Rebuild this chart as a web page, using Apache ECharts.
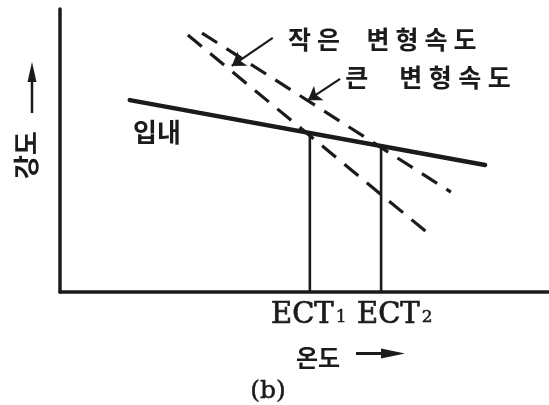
<!DOCTYPE html>
<html>
<head>
<meta charset="utf-8">
<script src="https://cdn.jsdelivr.net/npm/echarts@6/dist/echarts.min.js"></script>
<style>
  html, body { margin: 0; padding: 0; background: #fff; }
  #chart { width: 549px; height: 405px; }
</style>
</head>
<body>
<div id="chart"></div>
<script>
// Schematic: strength vs. temperature, grain interior vs. grain boundary
// at two strain rates (arbitrary units, 0..100 on both axes).
const interiorLine = [[14.3, 67.8], [87.1, 44.9]];      // 입내
const slowRateLine = [[26.2, 90.8], [75.6, 20.5]];      // 작은 변형속도
const fastRateLine = [[29.1, 91.5], [80.1, 35.3]];      // 큰 변형속도
const ectTemps = [51.2, 65.8];
const ectStrengths = [56.2, 51.6];
const ectSubs = ['1', '2'];
const slowLeader = [[43.6, 89.8], [35.2, 79.9]];
const fastLeader = [[57.4, 75.3], [50.8, 67.8]];

const INK = '#1b1b1b';
const KR = '"Noto Sans CJK KR", "Noto Sans", sans-serif';
const SERIF = '"DejaVu Serif", "Liberation Serif", serif';

// Builds rich text in which every character sits in a fixed-width box,
// giving the wide letter pitch of the labels.
function spaced(str) {
  return str.split('').map(ch => ch === ' ' ? '{s| }' : '{c|' + ch + '}').join('');
}
function spacedRich(size, pitch, gap) {
  return {
    c: { width: pitch, align: 'center', fontSize: size, fontFamily: KR, fontWeight: 'bold', fill: INK },
    s: { width: gap, fontSize: size, fontFamily: KR }
  };
}

const chart = echarts.init(document.getElementById('chart'), null, { renderer: 'canvas' });

const ectSeries = ectTemps.map((t, i) => ({
  type: 'line',
  data: [[t, 0], [t, ectStrengths[i]]],
  symbol: 'none',
  silent: true,
  lineStyle: { color: INK, width: 2.6 }
}));

chart.setOption({
  backgroundColor: '#ffffff',
  animation: false,
  grid: { left: 60, top: 9, right: 1, bottom: 113 },
  xAxis: {
    type: 'value', min: 0, max: 100,
    axisLine: { show: true, onZero: false, lineStyle: { color: INK, width: 3.5 } },
    axisTick: { show: false }, axisLabel: { show: false }, splitLine: { show: false }
  },
  yAxis: {
    type: 'value', min: 0, max: 100,
    axisLine: { show: true, onZero: false, lineStyle: { color: INK, width: 3.5 } },
    axisTick: { show: false }, axisLabel: { show: false }, splitLine: { show: false }
  },
  series: [
    {
      type: 'line', data: interiorLine, symbol: 'none', silent: true,
      lineStyle: { color: INK, width: 4.5, cap: 'round' }
    },
    {
      type: 'line', data: slowRateLine, symbol: 'none', silent: true,
      lineStyle: { color: INK, width: 3.2, type: [18, 11] }
    },
    {
      type: 'line', data: fastRateLine, symbol: 'none', silent: true,
      lineStyle: { color: INK, width: 3.2, type: [18, 11] }
    },
    ...ectSeries,
    {
      type: 'lines', coordinateSystem: 'cartesian2d', silent: true,
      symbol: ['none', 'arrow'], symbolSize: [7, 13],
      lineStyle: { color: INK, width: 2.2, opacity: 1, curveness: 0 },
      data: [{ coords: slowLeader }, { coords: fastLeader }]
    }
  ],
  graphic: [
    // series captions
    { type: 'text', x: 285, y: 39, style: {
        text: spaced('작은 변형속도'), rich: spacedRich(25, 29, 20.5),
        align: 'left', verticalAlign: 'middle' } },
    { type: 'text', x: 342, y: 77, style: {
        text: spaced('큰 변형속도'), rich: spacedRich(25, 29.5, 24.5),
        align: 'left', verticalAlign: 'middle' } },
    { type: 'text', x: 157, y: 132, style: {
        text: '입내', font: 'bold 26px ' + KR, fill: INK,
        align: 'center', verticalAlign: 'middle' } },
    // y-axis title with arrow
    { type: 'text', x: 26, y: 155, rotation: Math.PI / 2, style: {
        text: '강도', font: 'bold 26px ' + KR, fill: INK,
        align: 'center', verticalAlign: 'middle' } },
    { type: 'line', shape: { x1: 32, y1: 113, x2: 32, y2: 78 },
      style: { stroke: INK, lineWidth: 2.5 } },
    { type: 'polygon', shape: { points: [[32, 62], [27.5, 82], [36.5, 82]] },
      style: { fill: INK } },
    // ECT labels
    ...ectSubs.map((s, i) => ({
      type: 'text', x: [271, 357][i], y: 315, style: {
        text: '{m|ECT}{s|' + s + '}',
        rich: {
          m: { fontFamily: SERIF, fontSize: 29, fill: INK, verticalAlign: 'bottom',
               stroke: INK, lineWidth: 0.7 },
          s: { fontFamily: SERIF, fontSize: 17, fill: INK, verticalAlign: 'bottom',
               stroke: INK, lineWidth: 0.5, padding: [0, 0, 3, 2] }
        },
        align: 'left', verticalAlign: 'middle' } })),
    // x-axis title with arrow
    { type: 'text', x: 318, y: 358, style: {
        text: '온도', font: 'bold 24px ' + KR, fill: INK,
        align: 'center', verticalAlign: 'middle' } },
    { type: 'line', shape: { x1: 356, y1: 353.5, x2: 385, y2: 353.5 },
      style: { stroke: INK, lineWidth: 3 } },
    { type: 'polygon', shape: { points: [[405, 353.5], [381, 348.5], [381, 358.5]] },
      style: { fill: INK } },
    // panel tag
    { type: 'text', x: 268, y: 391, style: {
        text: '(b)', font: '25px ' + SERIF, fill: INK,
        stroke: INK, lineWidth: 0.5,
        align: 'center', verticalAlign: 'middle' } }
  ]
});
</script>
</body>
</html>
